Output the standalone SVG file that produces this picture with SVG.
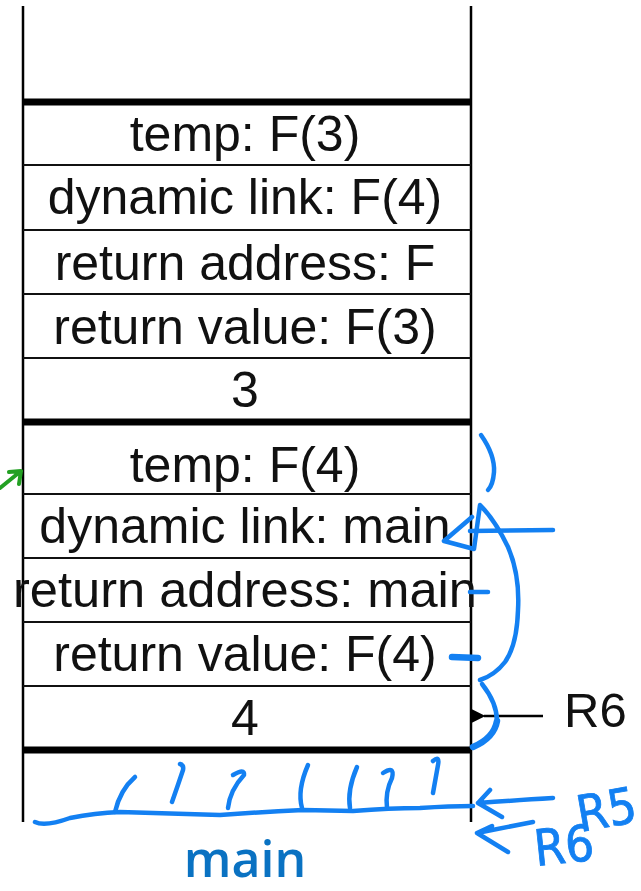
<svg xmlns="http://www.w3.org/2000/svg" width="641" height="891" viewBox="0 0 641 891">
  <style>
    .cell { font-family: "Liberation Sans", Arial, sans-serif; font-size: 50px; fill: #111; text-anchor: middle; }
    .thin { stroke: #111; stroke-width: 2; fill: none; }
    .thick { stroke: #000; stroke-width: 7; fill: none; }
    .side { stroke: #000; stroke-width: 2.5; fill: none; }
    .ink { stroke: #1380f2; stroke-width: 4.5; fill: none; stroke-linecap: round; stroke-linejoin: round; }
    .ink-heavy { stroke: #1380f2; stroke-width: 6.5; fill: none; stroke-linecap: round; stroke-linejoin: round; }
    .hand { font-family: "Liberation Sans Narrow", "DejaVu Sans Condensed", sans-serif; font-size: 50px; fill: #1380f2; stroke: #1380f2; stroke-width: 0.8; }
    .label { font-family: "Liberation Sans", Arial, sans-serif; font-size: 49px; fill: #111; }
    .frame-name { font-family: "Open Sans", "Noto Sans", sans-serif; font-weight: 600; font-size: 50px; fill: #0a72c2; text-anchor: middle; }
  </style>
  <defs>
    <marker id="tri" viewBox="0 0 10 10" refX="1" refY="5" markerWidth="14" markerHeight="14" markerUnits="userSpaceOnUse" orient="auto-start-reverse">
      <path d="M0,5 L10,0 L10,10 Z" fill="#000"/>
    </marker>
  </defs>
  <rect width="641" height="891" fill="#fff"/>

  <!-- stack walls -->
  <g id="walls">
    <line class="side" x1="23" y1="6" x2="23" y2="822"/>
    <line class="side" x1="471" y1="6" x2="471" y2="822"/>
  </g>

  <!-- frame of F(3) -->
  <g id="frame-f3">
    <line class="thick" x1="23" y1="102" x2="471" y2="102"/>
    <g id="f3-temp">
      <text class="cell" x="245" y="151">temp: F(3)</text>
      <line class="thin" x1="23" y1="165" x2="471" y2="165"/>
    </g>
    <g id="f3-dynlink">
      <text class="cell" x="245" y="214">dynamic link: F(4)</text>
      <line class="thin" x1="23" y1="230" x2="471" y2="230"/>
    </g>
    <g id="f3-retaddr">
      <text class="cell" x="245" y="280">return address: F</text>
      <line class="thin" x1="23" y1="294" x2="471" y2="294"/>
    </g>
    <g id="f3-retval">
      <text class="cell" x="245" y="344">return value: F(3)</text>
      <line class="thin" x1="23" y1="358" x2="471" y2="358"/>
    </g>
    <g id="f3-arg">
      <text class="cell" x="245" y="407">3</text>
    </g>
  </g>

  <!-- frame of F(4) -->
  <g id="frame-f4">
    <line class="thick" x1="23" y1="422" x2="471" y2="422"/>
    <g id="f4-temp">
      <text class="cell" x="245" y="482">temp: F(4)</text>
      <line class="thin" x1="23" y1="494" x2="471" y2="494"/>
    </g>
    <g id="f4-dynlink">
      <text class="cell" x="245" y="543">dynamic link: main</text>
      <line class="thin" x1="23" y1="558" x2="471" y2="558"/>
    </g>
    <g id="f4-retaddr">
      <text class="cell" x="245" y="607" textLength="464" lengthAdjust="spacingAndGlyphs">return address: main</text>
      <line class="thin" x1="23" y1="622" x2="471" y2="622"/>
    </g>
    <g id="f4-retval">
      <text class="cell" x="245" y="671">return value: F(4)</text>
      <line class="thin" x1="23" y1="686" x2="471" y2="686"/>
    </g>
    <g id="f4-arg">
      <text class="cell" x="245" y="735">4</text>
    </g>
    <line class="thick" x1="23" y1="750" x2="471" y2="750"/>
  </g>

  <!-- frame of main -->
  <g id="frame-main">
    <text class="frame-name" x="245" y="877">main</text>
  </g>

  <!-- pointers -->
  <g id="connectors">
    <line x1="543" y1="716" x2="484" y2="716" stroke="#000" stroke-width="2.5" marker-end="url(#tri)"/>
    <path d="M0,488 L21,471 M9,472 L21,471 L19,484" stroke="#23a023" stroke-width="4" fill="none" stroke-linecap="round" stroke-linejoin="round"/>
  </g>
  <text id="r6-label" class="label" x="564" y="727">R6</text>

  <!-- ink annotations -->
  <g id="ink">
    <path class="ink" d="M481,435 Q495,455 494,472 Q493,485 488,490"/>
    <path class="ink" d="M553,530 L470,531"/>
    <path class="ink" d="M472,517 L444,541 L474,549 L480,505 Q495,520 508,547 Q520,575 518,610 Q517,645 505,662 Q495,675 480,680"/>
    <path class="ink" d="M470,592 L488,592"/>
    <path class="ink-heavy" d="M452,657 L478,658"/>
    <path class="ink" d="M482,684 Q497,703 497,721"/>
    <path class="ink-heavy" d="M497,721 Q494,738 473,747"/>

    <path class="ink" d="M35,822 Q45,827 70,818 Q95,813 120,812 L220,815 Q260,812 303,810 L353,811 Q390,808 420,808 Q450,806 473,806"/>
    <path class="ink" d="M115,812 Q120,790 135,777"/>
    <path class="ink" d="M172,802 Q178,785 183,770 Q184,765 180,764"/>
    <path class="ink" d="M233,775 Q245,768 244,775 Q230,790 228,808"/>
    <path class="ink" d="M302,808 Q297,790 308,765"/>
    <path class="ink" d="M350,808 Q347,790 357,767"/>
    <path class="ink" d="M383,773 Q395,765 392,778 Q385,792 387,808"/>
    <path class="ink" d="M433,761 Q440,755 438,765 L433,793"/>

    <path class="ink" d="M553,798 Q520,800 478,803 M490,790 L478,803 L502,817"/>
    <path class="ink" d="M533,822 L477,833 L508,852 M477,833 L492,826"/>
    <text class="hand" x="536" y="866" transform="rotate(-6 536 866)">R6</text>
    <text class="hand" x="580" y="832" transform="rotate(-10 580 832)">R5</text>
  </g>
</svg>
